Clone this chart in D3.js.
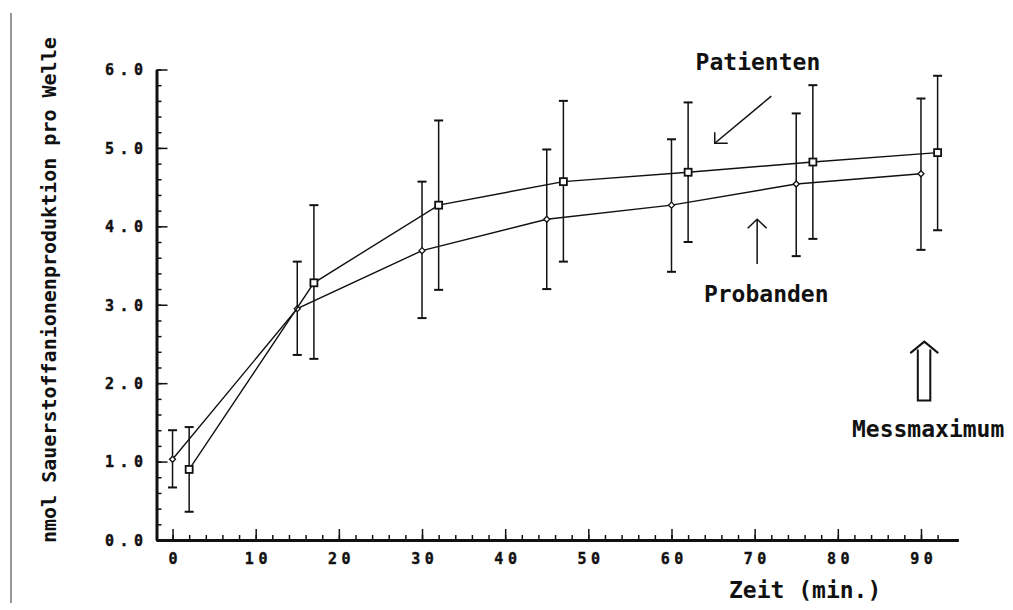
<!DOCTYPE html>
<html>
<head>
<meta charset="utf-8">
<script src="https://cdn.jsdelivr.net/npm/d3@7"></script>
<style>
  body { margin: 0; background: #fff; }
  svg { display: block; }
  text { font-family: "DejaVu Sans Mono", monospace; font-weight: bold; fill: #111; }
</style>
</head>
<body>
<svg width="1013" height="610"></svg>
<script>
// Probanden (controls) - diamonds, Patienten - squares, time in min
const probTime = [0, 15, 30, 45, 60, 75, 90];
const probMean = [1.03, 2.95, 3.69, 4.09, 4.27, 4.54, 4.67];
const probHigh = [1.40, 3.55, 4.57, 4.98, 5.11, 5.44, 5.63];
const probLow  = [0.67, 2.36, 2.83, 3.20, 3.42, 3.62, 3.70];

const patTime = [2, 17, 32, 47, 62, 77, 92];
const patMean = [0.90, 3.28, 4.27, 4.57, 4.69, 4.82, 4.94];
const patHigh = [1.44, 4.27, 5.35, 5.60, 5.58, 5.80, 5.92];
const patLow  = [0.36, 2.31, 3.19, 3.55, 3.80, 3.84, 3.95];

const xTicks = [0, 10, 20, 30, 40, 50, 60, 70, 80, 90];
const yTicks = [0, 1, 2, 3, 4, 5, 6];

let svg = d3.select("svg");

let x = d3.scaleLinear().domain([-2, 94.5]).range([155.9, 958.4]);
let y = d3.scaleLinear().domain([0, 6]).range([540, 69.5]);

// thin edge line on the left of the scan
svg.append("line")
    .attr("x1", 11).attr("x2", 11).attr("y1", 13).attr("y2", 603)
    .attr("stroke", "#333").attr("stroke-width", 1);

// minor ticks
let xMinor = d3.range(0, 93, 2);
let yMinor = d3.range(0, 6.01, 0.2);

svg.append("g")
    .attr("transform", "translate(0,540)")
    .call(d3.axisBottom(x).tickValues(xMinor).tickSize(-5).tickFormat(""))
    .call(g => g.select(".domain").remove())
    .selectAll("line").attr("stroke", "#111").attr("stroke-width", 1.5);

svg.append("g")
    .attr("transform", "translate(156.5,0)")
    .call(d3.axisLeft(y).tickValues(yMinor).tickSize(-5).tickFormat(""))
    .call(g => g.select(".domain").remove())
    .selectAll("line").attr("stroke", "#111").attr("stroke-width", 1.5);

// major ticks + labels
let xAxis = svg.append("g")
    .attr("transform", "translate(0,540)")
    .call(d3.axisBottom(x).tickValues(xTicks).tickSize(-11).tickSizeOuter(0).tickPadding(12).tickFormat(d3.format("d")));
xAxis.select(".domain").attr("stroke", "#111").attr("stroke-width", 3);
xAxis.selectAll(".tick line").attr("stroke", "#111").attr("stroke-width", 1.5);
xAxis.selectAll(".tick text")
    .attr("font-size", 15).attr("letter-spacing", "4.5px")
    .attr("dx", 2.2).attr("dy", 12)
    .attr("font-family", "DejaVu Sans").attr("font-weight", "bold")
    .attr("fill", "#111").attr("stroke", "#111").attr("stroke-width", 0.4);

let yAxis = svg.append("g")
    .attr("transform", "translate(156.5,0)")
    .call(d3.axisLeft(y).tickValues(yTicks).tickSize(-11).tickSizeOuter(0).tickPadding(8).tickFormat(d3.format(".1f")));
yAxis.select(".domain").attr("stroke", "#111").attr("stroke-width", 3);
yAxis.selectAll(".tick line").attr("stroke", "#111").attr("stroke-width", 1.5);
yAxis.selectAll(".tick text")
    .attr("font-size", 15).attr("letter-spacing", "5.5px")
    .attr("dy", "0.36em")
    .attr("font-family", "DejaVu Sans").attr("font-weight", "bold")
    .attr("fill", "#111").attr("stroke", "#111").attr("stroke-width", 0.4);

function drawSeries(times, mean, high, low, marker) {
    let pts = times.map((t, i) => ({t: t, m: mean[i], h: high[i], l: low[i]}));
    let g = svg.append("g");

    g.selectAll("line.err").data(pts).enter().append("line")
        .attr("x1", d => x(d.t)).attr("x2", d => x(d.t))
        .attr("y1", d => y(d.h)).attr("y2", d => y(d.l))
        .attr("stroke", "#111").attr("stroke-width", 1.5);
    [ "h", "l" ].forEach(k => {
        g.selectAll("line.cap" + k).data(pts).enter().append("line")
            .attr("x1", d => x(d.t) - 4.5).attr("x2", d => x(d.t) + 4.5)
            .attr("y1", d => y(d[k])).attr("y2", d => y(d[k]))
            .attr("stroke", "#111").attr("stroke-width", 2);
    });

    let line = d3.line().x(d => x(d.t)).y(d => y(d.m));
    g.append("path").datum(pts)
        .attr("d", line)
        .attr("fill", "none").attr("stroke", "#111").attr("stroke-width", 1.4);

    if (marker === "square") {
        g.selectAll("rect").data(pts).enter().append("rect")
            .attr("x", d => x(d.t) - 3.5).attr("y", d => y(d.m) - 3.5)
            .attr("width", 7).attr("height", 7)
            .attr("fill", "#fff").attr("stroke", "#111").attr("stroke-width", 1.8);
    } else {
        g.selectAll("path.dia").data(pts).enter().append("path")
            .attr("class", "dia")
            .attr("transform", d => `translate(${x(d.t)},${y(d.m)})`)
            .attr("d", "M0,-3L3,0L0,3L-3,0Z")
            .attr("fill", "#fff").attr("stroke", "#111").attr("stroke-width", 1.3);
    }
}

drawSeries(probTime, probMean, probHigh, probLow, "diamond");
drawSeries(patTime, patMean, patHigh, patLow, "square");

// annotations
let ann = svg.append("g").attr("fill", "none").attr("stroke", "#111").attr("stroke-width", 1.5);

// Patienten arrow (diagonal, L-shaped head)
let pa = {x1: x(72.0), y1: y(5.66), x2: x(65.2), y2: y(5.06)};
ann.append("line").attr("x1", pa.x1).attr("y1", pa.y1).attr("x2", pa.x2).attr("y2", pa.y2);
ann.append("path").attr("d", `M${pa.x2},${pa.y2 - 11}L${pa.x2},${pa.y2}L${pa.x2 + 13},${pa.y2}`);

// Probanden arrow (vertical)
let pr = {x: x(70.3), y1: y(3.52), y2: y(4.09)};
ann.append("line").attr("x1", pr.x).attr("y1", pr.y1).attr("x2", pr.x).attr("y2", pr.y2);
ann.append("path").attr("d", `M${pr.x - 9.5},${pr.y2 + 9}L${pr.x},${pr.y2}L${pr.x + 9.5},${pr.y2 + 9}`);

// Messmaximum hollow block arrow
let mx = x(90.4), mTip = y(2.53), mBot = y(1.78);
ann.append("path").attr("stroke-width", 2)
    .attr("d", `M${mx - 6.5},${mTip + 8}L${mx - 6.5},${mBot}L${mx + 6},${mBot}L${mx + 6},${mTip + 8}`);
ann.append("path").attr("stroke-width", 2)
    .attr("d", `M${mx - 14},${mTip + 11.5}L${mx},${mTip}L${mx + 14},${mTip + 11.5}`);

// labels
svg.append("text").attr("x", x(62.9)).attr("y", y(5.99)).attr("font-size", 23).text("Patienten");
svg.append("text").attr("x", x(63.9)).attr("y", y(3.04)).attr("font-size", 23).text("Probanden");
svg.append("text").attr("x", x(81.7)).attr("y", y(1.315)).attr("font-size", 23).text("Messmaximum");

svg.append("text").attr("x", 729).attr("y", 598).attr("font-size", 23).text("Zeit (min.)");

svg.append("text")
    .attr("transform", "translate(56,543) rotate(-90)")
    .attr("font-size", 20)
    .text("nmol Sauerstoffanionenproduktion pro Welle");
</script>
</body>
</html>
